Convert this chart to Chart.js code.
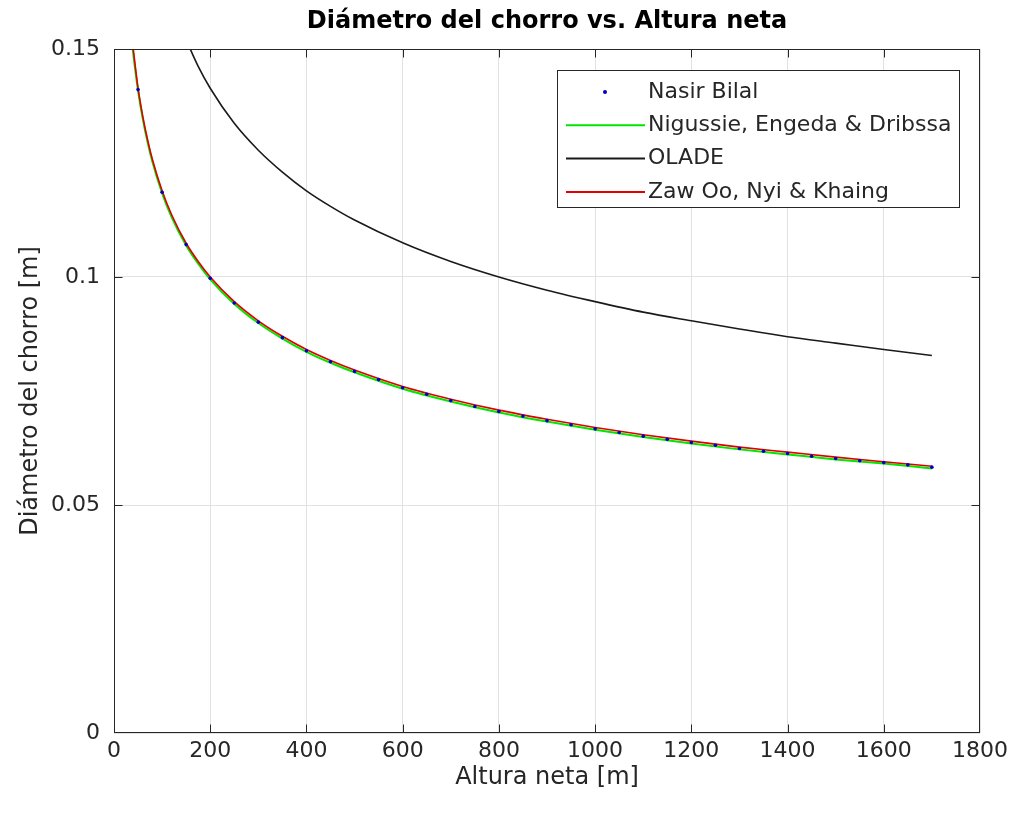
<!DOCTYPE html>
<html>
<head>
<meta charset="utf-8">
<script src="https://cdn.jsdelivr.net/npm/chart.js@4/dist/chart.umd.min.js"></script>
<style>
  html, body { margin: 0; padding: 0; background: #fff; }
  #wrap { width: 1015px; height: 819px; }
</style>
</head>
<body>
<div id="wrap"><canvas id="myChart" width="1015" height="819"></canvas></div>
<script>
// values
const chartTitle = 'Diámetro del chorro vs. Altura neta';
const xTicks = [0, 200, 400, 600, 800, 1000, 1200, 1400, 1600, 1800];
const yTickLabels = ['0', '0.05', '0.1', '0.15'];

const lineH = [35, 40, 50, 60, 70, 80, 100, 120, 150, 175, 200, 250, 300, 350, 400, 450, 500,
  600, 700, 800, 900, 1000, 1100, 1200, 1300, 1400, 1500, 1600, 1700];
const zawOo = [0.1545, 0.150, 0.1414, 0.1351, 0.1300, 0.1257, 0.1189, 0.1136, 0.1074, 0.1034, 0.1000,
  0.0946, 0.0904, 0.0870, 0.0841, 0.0817, 0.0796, 0.0760, 0.0732, 0.0708, 0.0688, 0.0670,
  0.0654, 0.0640, 0.0627, 0.0616, 0.0605, 0.0595, 0.0585];
const nigussie = [0.1538, 0.1490, 0.1409, 0.1346, 0.1295, 0.1252, 0.1184, 0.1131, 0.1069, 0.1029, 0.0995,
  0.0941, 0.0899, 0.0865, 0.0836, 0.0812, 0.0791, 0.0755, 0.0727, 0.0703, 0.0683, 0.0665,
  0.0649, 0.0635, 0.0622, 0.0611, 0.0600, 0.0591, 0.0580];

const oladeH = [150, 175, 200, 250, 300, 350, 400, 450, 500, 600, 700, 800, 900, 1000, 1100,
  1200, 1300, 1400, 1500, 1600, 1700];
const olade = [0.1520, 0.1462, 0.1414, 0.1337, 0.1278, 0.1230, 0.1189, 0.1155, 0.1125, 0.1075,
  0.1034, 0.1000, 0.0971, 0.0946, 0.0923, 0.0904, 0.0886, 0.0869, 0.0855, 0.0841, 0.0828];

const bilalH = [50, 100, 150, 200, 250, 300, 350, 400, 450, 500, 550, 600, 650, 700, 750, 800, 850,
  900, 950, 1000, 1050, 1100, 1150, 1200, 1250, 1300, 1350, 1400, 1450, 1500, 1550, 1600, 1650, 1700];
const bilal = [0.1411, 0.1186, 0.1071, 0.0997, 0.0943, 0.0901, 0.0867, 0.0838, 0.0814, 0.0793,
  0.0775, 0.0757, 0.0743, 0.0729, 0.0716, 0.0705, 0.0695, 0.0685, 0.0676, 0.0667, 0.0659,
  0.0651, 0.0644, 0.0637, 0.0631, 0.0624, 0.0618, 0.0613, 0.0607, 0.0602, 0.0597, 0.0593,
  0.0588, 0.0583];

const FONT = "'DejaVu Sans', sans-serif";
const INK = '#262626';

function pts(xs, ys) {
  return xs.map((x, i) => ({ x: x, y: ys[i] }));
}

// box + inward ticks like matlab, title over the plot area, legend inside the plot
const boxPlugin = {
  id: 'box',
  afterDraw(chart) {
    const ctx = chart.ctx;
    const a = chart.chartArea;
    const xs = chart.scales.x, ys = chart.scales.y;
    const L = a.left + 0.5, R = a.right - 0.5, T = a.top + 0.5, B = a.bottom - 0.5;
    ctx.save();
    ctx.strokeStyle = INK;
    ctx.lineWidth = 1;
    ctx.strokeRect(L, T, R - L, B - T);
    ctx.beginPath();
    xTicks.forEach(v => {
      const px = Math.min(R, Math.max(L, Math.round(xs.getPixelForValue(v)) + 0.5));
      ctx.moveTo(px, B); ctx.lineTo(px, B - 8);
      ctx.moveTo(px, T); ctx.lineTo(px, T + 8);
    });
    yTickLabels.forEach(t => {
      const py = Math.min(B, Math.max(T, Math.round(ys.getPixelForValue(parseFloat(t))) + 0.5));
      ctx.moveTo(L, py); ctx.lineTo(L + 8, py);
      ctx.moveTo(R, py); ctx.lineTo(R - 8, py);
    });
    ctx.stroke();

    // title
    ctx.fillStyle = '#000';
    ctx.font = 'bold 24px ' + FONT;
    ctx.textAlign = 'center';
    ctx.textBaseline = 'middle';
    ctx.fillText(chartTitle, (a.left + a.right) / 2, 22);

    // legend
    const lx = 557, ly = 70, lw = 402, lh = 137;
    ctx.fillStyle = '#fff';
    ctx.fillRect(lx, ly, lw, lh);
    ctx.strokeStyle = INK;
    ctx.strokeRect(lx + 0.5, ly + 0.5, lw, lh);
    ctx.font = '22px ' + FONT;
    ctx.textAlign = 'left';
    chart.data.datasets.forEach((ds, i) => {
      const y = ly + 22 + i * 33.3;
      if (ds.showLine === false) {
        ctx.fillStyle = ds.pointBackgroundColor;
        ctx.beginPath();
        ctx.arc(605, y, 2, 0, Math.PI * 2);
        ctx.fill();
      } else {
        ctx.strokeStyle = ds.borderColor;
        ctx.lineWidth = 2;
        ctx.beginPath();
        ctx.moveTo(566, y); ctx.lineTo(645, y);
        ctx.stroke();
      }
      ctx.fillStyle = INK;
      ctx.fillText(ds.label, 648, y);
    });
    ctx.restore();
  }
};

const ctx = document.getElementById('myChart').getContext('2d');
const myChart = new Chart(ctx, {
  type: 'line',
  data: {
    datasets: [
      {
        label: 'Nasir Bilal',
        data: pts(bilalH, bilal),
        showLine: false,
        pointRadius: 1.8,
        pointBackgroundColor: '#0000c0',
        pointBorderWidth: 0,
        order: 0
      },
      {
        label: 'Nigussie, Engeda & Dribssa',
        data: pts(lineH, nigussie),
        borderColor: '#00e600',
        borderWidth: 2,
        pointRadius: 0,
        cubicInterpolationMode: 'monotone',
        order: 3
      },
      {
        label: 'OLADE',
        data: pts(oladeH, olade),
        borderColor: '#1a1a1a',
        borderWidth: 1.6,
        pointRadius: 0,
        cubicInterpolationMode: 'monotone',
        order: 2
      },
      {
        label: 'Zaw Oo, Nyi & Khaing',
        data: pts(lineH, zawOo),
        borderColor: '#e00000',
        borderWidth: 1.6,
        pointRadius: 0,
        cubicInterpolationMode: 'monotone',
        order: 1
      }
    ]
  },
  options: {
    responsive: false,
    animation: false,
    layout: { padding: { left: 0, right: 35, top: 49, bottom: 0 } },
    plugins: {
      legend: { display: false },
      tooltip: { enabled: false },
      title: { display: false }
    },
    scales: {
      x: {
        type: 'linear',
        min: 0,
        max: 1800,
        afterBuildTicks: s => { s.ticks = xTicks.map(v => ({ value: v })); },
        afterFit: s => { s.height = 86; },
        grid: { color: '#e2e2e2', drawTicks: false },
        border: { display: false },
        ticks: {
          color: INK,
          padding: 5,
          maxRotation: 0,
          font: { family: FONT, size: 22 },
          callback: v => String(v)
        },
        title: {
          display: true,
          text: 'Altura neta [m]',
          color: INK,
          font: { family: FONT, size: 24 },
          padding: { top: 0, bottom: 27 }
        }
      },
      y: {
        min: 0,
        max: 0.15,
        afterBuildTicks: s => { s.ticks = yTickLabels.map(t => ({ value: parseFloat(t) })); },
        afterFit: s => { s.width = 114; },
        grid: { color: '#e2e2e2', drawTicks: false },
        border: { display: false },
        ticks: {
          color: INK,
          padding: 14,
          font: { family: FONT, size: 22 },
          callback: (v, i) => yTickLabels[i]
        },
        title: {
          display: true,
          text: 'Diámetro del chorro [m]',
          color: INK,
          font: { family: FONT, size: 24 },
          padding: { top: 16, bottom: 0 }
        }
      }
    }
  },
  plugins: [boxPlugin]
});
</script>
</body>
</html>
